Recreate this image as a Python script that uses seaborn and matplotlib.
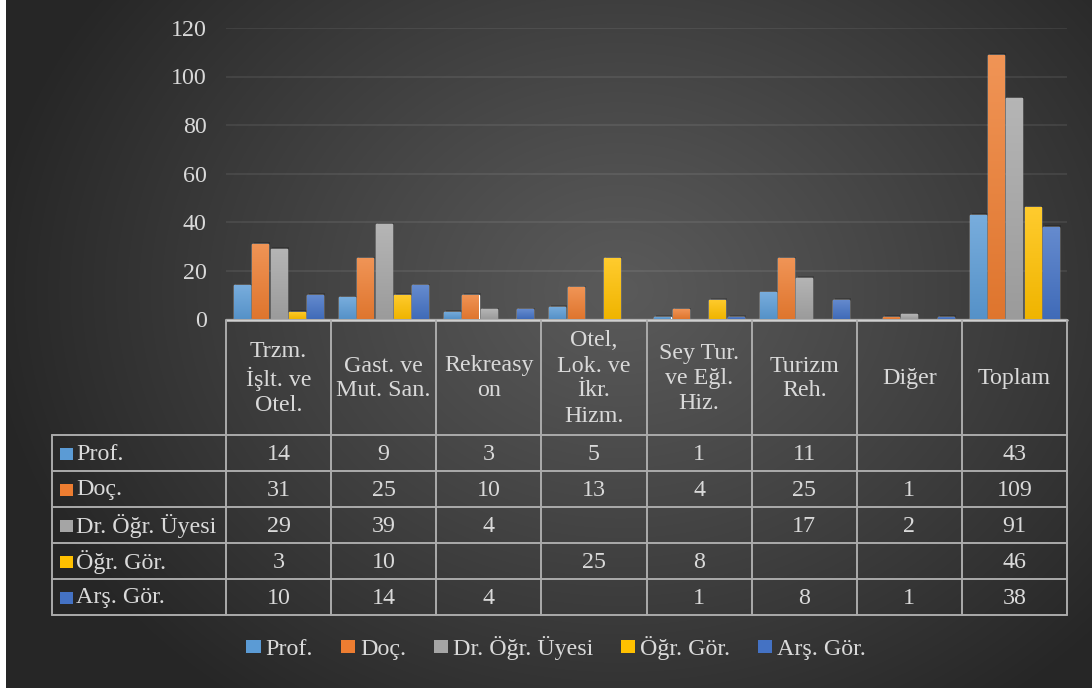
import numpy as np
import pandas as pd
import matplotlib
matplotlib.use("Agg")
import matplotlib.pyplot as plt
import seaborn as sns
from matplotlib.patches import Rectangle
from matplotlib.lines import Line2D
import matplotlib.colors as mcolors

# ---------------- data ----------------
categories = ["Trzm.\nİşlt. ve\nOtel.", "Gast. ve\nMut. San.", "Rekreasy\non",
              "Otel,\nLok. ve\nİkr.\nHizm.", "Sey Tur.\nve Eğl.\nHiz.",
              "Turizm\nReh.", "Diğer", "Toplam"]
series = ["Prof.", "Doç.", "Dr. Öğr. Üyesi", "Öğr. Gör.", "Arş. Gör."]
prof = [14, 9, 3, 5, 1, 11, None, 43]
doc = [31, 25, 10, 13, 4, 25, 1, 109]
dr_ogr_uyesi = [29, 39, 4, None, None, 17, 2, 91]
ogr_gor = [3, 10, None, 25, 8, None, None, 46]
ars_gor = [10, 14, 4, None, 1, 8, 1, 38]
yticks = [0, 20, 40, 60, 80, 100, 120]
colors = ["#5B9BD5", "#ED7D31", "#A5A5A5", "#FFC000", "#4472C4"]

values = [prof, doc, dr_ogr_uyesi, ogr_gor, ars_gor]
rows = []
for s, vals in zip(series, values):
    for c, v in zip(categories, vals):
        if v is not None:
            rows.append({"cat": c, "series": s, "value": v})
df = pd.DataFrame(rows)

# ---------------- figure ----------------
W, H = 1092, 688
sns.set_style("white")
plt.rcParams["font.family"] = ["Liberation Serif", "DejaVu Serif"]
TXT = "#D9D9D9"
FS = 17.3

fig = plt.figure(figsize=(W / 100, H / 100), dpi=100, facecolor="white")

def fx(x):
    return x / W

def fy(y):
    return 1 - y / H

# background radial gradient
bg = fig.add_axes([fx(6), 0, 1 - fx(6), 1], zorder=-10)
Xp, Yp = np.meshgrid(np.arange(6, W), np.arange(H))
d = np.sqrt(((Xp - 620) / 640.0) ** 2 + ((Yp - 290) / 520.0) ** 2)
d = np.clip(d, 0, 1)
inner, outer = 0x5A / 255, 0x26 / 255
g = inner + (outer - inner) * d ** 1.1
bg.imshow(np.dstack([g, g, g]), aspect="auto", extent=[0, 1, 0, 1], origin="upper")
bg.set_axis_off()

# plot area
x0, x1 = 226, 1067
y_top, y_zero = 28, 319
ax = fig.add_axes([fx(x0), fy(y_zero), fx(x1) - fx(x0), (y_zero - y_top) / H])
ax.set_facecolor("none")

sns.barplot(data=df, x="cat", y="value", hue="series", order=categories,
            hue_order=series, palette=colors, width=0.87, gap=0.12,
            saturation=1, legend=False, ax=ax, zorder=3)

# gradient fills for bars
def mix(c, t, a):
    c = np.array(mcolors.to_rgb(c)); t = np.array(t)
    return c * (1 - a) + t * a

for p in list(ax.patches):
    bx, by = p.get_x(), p.get_y()
    bw, bh = p.get_width(), p.get_height()
    if not np.isfinite(bh) or bh <= 0:
        continue
    fc = p.get_facecolor()[:3]
    top = mix(fc, (1, 1, 1), 0.18)
    bot = mix(fc, (0, 0, 0), 0.06)
    n = 64
    tvals = np.linspace(0, 1, n)[:, None]
    img = top[None, :] * (1 - tvals) + bot[None, :] * tvals
    img = img[:, None, :]
    sh = Rectangle((bx + bw * 0.12, 0), bw, bh + 0.6, facecolor="black",
                   alpha=0.18, edgecolor="none", zorder=2)
    ax.add_patch(sh)
    im = ax.imshow(img, aspect="auto", extent=[bx, bx + bw, by, by + bh],
                   origin="upper", zorder=3.5, interpolation="bilinear")
    im.set_clip_path(p)

ax.set_xlim(-0.5, len(categories) - 0.5)
ax.set_ylim(0, 120)
ax.set_yticks(yticks)
ax.set_yticklabels([str(t) for t in yticks], fontsize=FS, color=TXT)
ax.tick_params(axis="y", length=0, pad=14)
ax.set_xticks([])
ax.set_xlabel("")
ax.set_ylabel("")
for s in ax.spines.values():
    s.set_visible(False)
ax.yaxis.grid(True, color="white", alpha=0.09, linewidth=1.2, zorder=0)
ax.set_axisbelow(True)

# ---------------- data table ----------------
col_w = (x1 - x0) / len(categories)
col_x = [x0 + i * col_w for i in range(len(categories) + 1)]
lab_x = 52
hdr_top, hdr_bot = 320, 435
row_h = 36
row_y = [hdr_bot + i * row_h for i in range(len(series) + 1)]
LC = "#ABABAB"
LW = 1.4

def hline(xa, xb, y, color=LC, lw=LW):
    fig.add_artist(Line2D([fx(xa), fx(xb)], [fy(y), fy(y)], color=color, lw=lw,
                          transform=fig.transFigure, zorder=5))

def vline(x, ya, yb, color=LC, lw=LW):
    fig.add_artist(Line2D([fx(x), fx(x)], [fy(ya), fy(yb)], color=color, lw=lw,
                          transform=fig.transFigure, zorder=5))

hline(x0, x1, hdr_top, color="#D0D0D0", lw=1.8)
for y in row_y:
    hline(lab_x, x1, y)
for x in col_x:
    vline(x, hdr_top, row_y[-1])
vline(lab_x, row_y[0], row_y[-1])

for i, c in enumerate(categories):
    cx = (col_x[i] + col_x[i + 1]) / 2
    fig.text(fx(cx), fy((hdr_top + hdr_bot) / 2 + 1), c, ha="center", va="center",
             multialignment="center", fontsize=FS, color=TXT, linespacing=1.25)

for j, (s, vals) in enumerate(zip(series, values)):
    cy = (row_y[j] + row_y[j + 1]) / 2
    fig.add_artist(Rectangle((fx(60), fy(cy + 6.5)), fx(12.5), 12 / H,
                             facecolor=colors[j], edgecolor="none",
                             transform=fig.transFigure, zorder=6))
    fig.text(fx(76.5), fy(cy + 1), s, ha="left", va="center", fontsize=FS, color=TXT)
    for i, v in enumerate(vals):
        if v is None:
            continue
        cx = (col_x[i] + col_x[i + 1]) / 2
        fig.text(fx(cx), fy(cy + 1), str(v), ha="center", va="center",
                 fontsize=FS, color=TXT)

# ---------------- legend ----------------
handles = [Rectangle((0, 0), 1, 1, facecolor=c, edgecolor="none") for c in colors]
leg = fig.legend(handles, series, loc="center", bbox_to_anchor=(fx(556), fy(648)),
                 ncol=5, frameon=False, fontsize=FS, labelcolor=TXT,
                 handlelength=0.6, handleheight=0.5, handletextpad=0.2,
                 columnspacing=1.15, borderaxespad=0)

fig.savefig("out.png", dpi=100, facecolor=fig.get_facecolor())
